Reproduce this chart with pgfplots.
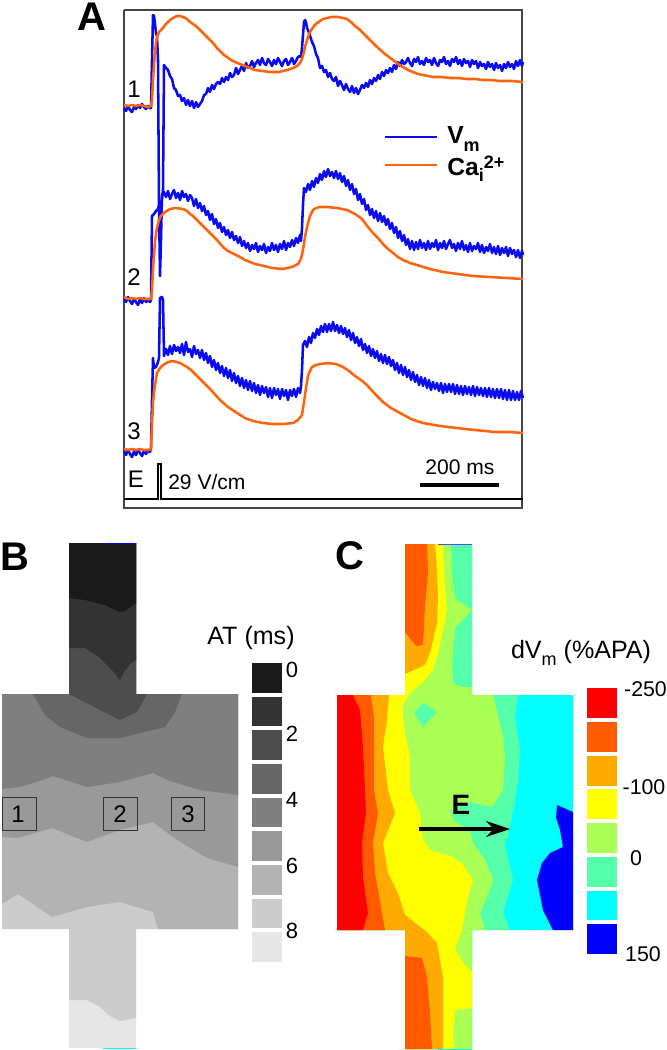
\documentclass[border=0pt]{standalone}
\usepackage{fontspec}
\setmainfont{Liberation Sans}
\usepackage{pgfplots}
\pgfplotsset{compat=1.18}
\usetikzlibrary{arrows.meta}

\definecolor{vm}{RGB}{10,10,240}
\definecolor{cai}{RGB}{255,100,10}
\definecolor{frame}{RGB}{70,70,70}
\definecolor{cR}{RGB}{255,0,0}
\definecolor{cRO}{RGB}{255,90,0}
\definecolor{cO}{RGB}{255,170,0}
\definecolor{cY}{RGB}{255,255,0}
\definecolor{cL}{RGB}{170,255,85}
\definecolor{cM}{RGB}{85,255,170}
\definecolor{cC}{RGB}{0,255,255}
\definecolor{cB}{RGB}{0,0,255}
\definecolor{g0}{RGB}{26,26,26}
\definecolor{g1}{RGB}{51,51,51}
\definecolor{g2}{RGB}{77,77,77}
\definecolor{g3}{RGB}{102,102,102}
\definecolor{g4}{RGB}{127,127,127}
\definecolor{g5}{RGB}{153,153,153}
\definecolor{g6}{RGB}{179,179,179}
\definecolor{g7}{RGB}{204,204,204}
\definecolor{g8}{RGB}{230,230,230}

\newcommand{\fs}[1]{\fontsize{#1}{#1}\selectfont}

\pgfplotsset{
  patch/.style={fill=#1, draw=none, forget plot},
  blue trace/.style={color=vm, line width=1.9pt, line join=round},
  orange trace/.style={color=cai, line width=1.9pt, line join=round},
}

\begin{document}
\begin{tikzpicture}[every node/.style={inner sep=0pt, overlay}]
\begin{axis}[
    scale only axis,
    width=500.25pt, height=787.5pt,
    xmin=0, xmax=667,
    ymin=0, ymax=1050,
    y dir=reverse,
    hide axis,
    clip=false,
]
% keep the page at the full canvas
\path (axis cs:0,0) rectangle (axis cs:667,1050);

% ---- panel A: frame
\addplot[color=frame, line width=0.8pt] coordinates {(124,10) (522,10) (522,508) (124,508) (124,10)};

% trace 1, Vm
\addplot[blue trace] coordinates {
(124,108) (126,111) (128,106) (130,110) (132,112) (134,107) (136,109) (138,105) (140,108) (142,104)
(144,107) (146,109) (148,106) (150,108) (151,108) (152,60) (153,15) (154,16) (155,24) (156,33) (157,36) (158,60)
(159,205) (161,207) (163,190) (164,65) (166,68) (168,70) (170,76) (172,79) (174,88) (176,90) (178,96)
(180,95) (182,101) (184,98) (186,105) (188,100) (190,106) (192,101) (194,108) (196,102) (198,107)
(200,104) (202,101) (204,95) (206,94) (208,88) (210,92) (212,85) (214,89) (216,84) (218,82)
(220,84) (222,78) (224,82) (226,77) (228,80) (230,73) (232,77) (234,75) (236,68) (238,74)
(240,70) (242,66) (244,71) (246,63) (248,68) (250,66) (252,61) (254,67) (256,63) (258,60)
(260,65) (262,58) (264,63) (266,65) (268,59) (270,62) (272,66) (274,60) (276,64) (278,58)
(280,62) (282,66) (284,61) (286,59) (288,65) (290,62) (292,58) (294,64) (296,61) (298,57)
(300,56) (301,57) (302,48) (303,35) (304,22) (305,20) (306,22) (307,28) (308,30) (310,36)
(312,42) (314,46) (316,54) (318,58) (320,68) (322,66) (324,72) (326,70) (328,77) (330,73)
(332,79) (334,81) (336,77) (338,86) (340,81) (342,85) (344,90) (346,84) (348,89) (350,92)
(352,86) (354,93) (356,88) (358,94) (360,90) (362,85) (364,88) (366,83) (368,87) (370,80)
(372,84) (374,78) (376,81) (378,75) (380,79) (382,72) (384,76) (386,70) (388,73) (390,68)
(392,72) (394,65) (396,69) (398,62) (400,66) (402,60) (404,64) (406,62) (408,58) (410,63)
(412,66) (414,59) (416,62) (418,57) (420,64) (422,61) (424,65) (426,58) (428,62) (430,60)
(432,65) (434,58) (436,63) (438,66) (440,60) (442,62) (444,57) (446,64) (448,61) (450,66)
(452,59) (454,62) (456,57) (458,64) (460,60) (462,66) (464,59) (466,63) (468,61) (470,67)
(472,60) (474,64) (476,61) (478,68) (480,62) (482,66) (484,64) (486,69) (488,62) (490,67)
(492,64) (494,70) (496,63) (498,68) (500,65) (502,71) (504,64) (506,68) (508,62) (510,67)
(512,64) (514,69) (516,61) (518,66) (520,60) (522,66) (523,62)};
% trace 1, Cai
\addplot[orange trace] coordinates {
(124,105) (128,106) (132,105) (136,106) (140,105) (144,106) (148,107) (151,106) (152,100) (153,80) (154,65)
(155,52) (156,43) (157,37) (159,32) (161,30) (163,28) (165,25) (167,23) (170,20) (173,18) (177,16) (180,16)
(183,17) (187,19) (190,22) (193,24) (197,27) (200,30) (204,34) (207,37) (210,40) (213,43) (217,48) (220,51)
(224,55) (227,57) (231,60) (235,62) (240,64) (245,66) (250,68) (255,70) (262,71) (270,72) (279,72) (287,70)
(293,68) (297,66) (300,63) (302,59) (304,52) (305,47) (307,40) (309,34) (312,29) (314,26) (317,23) (320,21)
(323,19) (327,18) (331,17) (338,17) (343,18) (347,19) (351,22) (355,26) (359,29) (363,33) (370,40) (377,47)
(385,54) (389,57) (393,60) (398,64) (403,67) (408,70) (413,72) (418,74) (423,75) (428,76) (433,77) (441,77)
(450,78) (458,78) (467,79) (475,79) (483,80) (491,80) (500,81) (512,81) (523,82)};

% trace 2, Vm
\addplot[blue trace] coordinates {
(124,298) (126,302) (128,297) (130,301) (132,304) (134,299) (136,302) (138,305) (140,299) (142,303)
(144,298) (146,302) (148,300) (150,302) (151,300) (152,216) (154,214) (156,211) (158,209) (159,205)
(160,276) (161,240) (162,195) (164,192) (166,197) (168,191) (170,199) (172,194) (174,190) (176,198)
(178,193) (180,200) (182,191) (184,197) (186,194) (188,201) (190,195) (192,198) (194,206) (196,199)
(198,208) (200,203) (202,211) (204,206) (206,215) (208,211) (210,220) (212,214) (214,224) (216,219)
(218,228) (220,223) (222,232) (224,227) (226,235) (228,230) (230,238) (232,232) (234,240) (236,236)
(238,243) (240,237) (242,246) (244,241) (246,248) (248,243) (250,251) (252,245) (254,249) (256,243)
(258,252) (260,246) (262,250) (264,244) (266,253) (268,247) (270,251) (272,243) (274,250) (276,245)
(278,252) (280,244) (282,249) (284,241) (286,250) (288,243) (290,247) (292,240) (294,246) (296,238)
(298,243) (300,235) (301,241) (302,228) (303,205) (304,188) (306,192) (308,184) (310,190) (312,181)
(314,187) (316,178) (318,183) (320,174) (322,180) (324,171) (326,177) (328,169) (330,176) (332,172)
(334,178) (336,171) (338,179) (340,173) (342,182) (344,176) (346,186) (348,180) (350,190) (352,184)
(354,194) (356,189) (358,200) (360,194) (362,204) (364,199) (366,210) (368,205) (370,215) (372,209)
(374,218) (376,211) (378,221) (380,213) (382,222) (384,216) (386,225) (388,219) (390,229) (392,223)
(394,233) (396,227) (398,238) (400,231) (402,241) (404,235) (406,245) (408,239) (410,249) (412,241)
(414,250) (416,242) (418,249) (420,240) (422,248) (424,243) (426,250) (428,241) (430,249) (432,243)
(434,247) (436,240) (438,250) (440,243) (442,248) (444,241) (446,249) (448,244) (450,240) (452,248)
(454,244) (456,251) (458,243) (460,249) (462,241) (464,250) (466,245) (468,252) (470,243) (472,251)
(474,246) (476,249) (478,243) (480,252) (482,245) (484,253) (486,247) (488,251) (490,244) (492,253)
(494,247) (496,254) (498,246) (500,255) (502,248) (504,253) (506,247) (508,256) (510,248) (512,254)
(514,250) (516,257) (518,250) (520,258) (522,251) (523,255)};
% trace 2, Cai
\addplot[orange trace] coordinates {
(124,297) (128,299) (132,298) (136,299) (140,298) (144,299) (148,299) (151,299) (152,290) (153,270) (154,255)
(155,241) (156,234) (157,228) (159,220) (161,216) (165,212) (170,209) (176,208) (183,209) (187,211) (190,214)
(193,216) (197,220) (203,226) (207,230) (210,233) (217,240) (223,247) (228,251) (232,253) (240,257) (245,260)
(250,262) (255,264) (260,265) (272,268) (283,269) (292,267) (298,264) (301,259) (303,250) (305,237) (307,227)
(310,216) (313,210) (316,208) (320,207) (327,207) (337,208) (347,210) (355,214) (358,216) (362,219) (368,227)
(373,233) (378,238) (383,244) (388,249) (393,253) (398,257) (403,260) (410,263) (417,265) (430,269) (443,272)
(458,274) (473,276) (490,277) (507,278) (523,279)};

% trace 3, Vm
\addplot[blue trace] coordinates {
(124,451) (126,455) (128,450) (130,454) (132,457) (134,451) (136,455) (138,450) (140,453) (142,456)
(144,451) (146,454) (148,450) (150,452) (151,448) (152,400) (153,358) (154,368) (156,367) (158,362) (159,358)
(160,298) (162,297) (163,300) (164,356) (166,349) (168,355) (170,346) (172,354) (174,345) (176,351)
(178,347) (180,353) (182,344) (184,355) (186,342) (188,352) (190,349) (192,357) (194,346) (196,354)
(198,350) (200,358) (202,350) (204,360) (206,353) (208,363) (210,356) (212,367) (214,360) (216,370)
(218,363) (220,373) (222,366) (224,376) (226,368) (228,378) (230,370) (232,381) (234,373) (236,383)
(238,376) (240,386) (242,378) (244,388) (246,380) (248,390) (250,381) (252,391) (254,383) (256,393)
(258,385) (260,395) (262,386) (264,393) (266,387) (268,397) (270,388) (272,398) (274,388) (276,395)
(278,389) (280,399) (282,389) (284,396) (286,390) (288,400) (290,390) (292,396) (294,389) (296,397)
(298,388) (300,393) (301,386) (302,370) (303,345) (305,341) (307,347) (309,337) (311,343) (313,333)
(315,338) (317,329) (319,335) (321,326) (323,332) (325,324) (327,332) (329,324) (331,331) (333,322)
(335,331) (337,325) (339,333) (341,326) (343,334) (345,328) (347,337) (349,330) (351,340) (353,333)
(355,343) (357,337) (359,346) (361,339) (363,350) (365,344) (367,353) (369,346) (371,356) (373,349)
(375,358) (377,351) (379,361) (381,354) (383,363) (385,355) (387,364) (389,357) (391,366) (393,360)
(395,370) (397,363) (399,373) (401,365) (403,375) (405,367) (407,377) (409,370) (411,380) (413,372)
(415,382) (417,375) (419,385) (421,377) (423,386) (425,378) (427,388) (429,380) (431,390) (433,382)
(435,389) (437,383) (439,391) (441,383) (443,393) (445,384) (447,392) (449,384) (451,392) (453,384)
(455,394) (457,385) (459,394) (461,386) (463,395) (465,386) (467,394) (469,387) (471,395) (473,386)
(475,396) (477,387) (479,395) (481,388) (483,396) (485,388) (487,397) (489,388) (491,397) (493,389)
(495,398) (497,389) (499,398) (501,389) (503,399) (505,390) (507,400) (509,390) (511,400) (513,391)
(515,400) (517,392) (519,400) (521,391) (523,398)};
% trace 3, Cai
\addplot[orange trace] coordinates {
(124,449) (128,450) (132,449) (136,450) (140,449) (144,450) (148,450) (151,449) (152,425) (153,403) (154,392)
(155,385) (157,373) (160,368) (163,365) (168,362) (173,361) (180,363) (187,367) (191,370) (195,374) (203,382)
(212,391) (220,400) (228,407) (237,413) (245,418) (253,421) (263,423) (273,424) (283,424) (293,423) (298,420)
(302,415) (304,402) (306,388) (308,376) (310,371) (312,367) (316,365) (320,364) (328,363) (336,364) (343,367)
(349,371) (355,376) (361,380) (367,385) (375,394) (383,402) (391,408) (400,413) (411,419) (423,423) (440,426)
(457,428) (475,430) (495,432) (510,432) (523,433)};

% legend
\addplot[color=vm, line width=1.5pt] coordinates {(385,137) (437,137)};
\addplot[color=cai, line width=1.5pt] coordinates {(385,165) (437,165)};
\node[anchor=base west] at (axis cs:447,143) {\fs{18.5}\bfseries V\raisebox{-6.7pt}{\fs{13.5}\bfseries m}};
\node[anchor=base west] at (axis cs:447,175) {\fs{18.5}\bfseries Ca\raisebox{-5pt}{\fs{13.5}\bfseries i}\raisebox{5pt}{\fs{13.5}\bfseries 2+}};

% stimulus and scale bar
\addplot[color=black, line width=0.8pt] coordinates {(124,499) (158,499) (158,464) (161,464) (161,499) (523,499)};
\addplot[color=black, line width=2.7pt] coordinates {(420,485) (499,485)};
\node at (axis cs:460,467) {\fs{15.8}200 ms};
\node[anchor=west] at (axis cs:168,482) {\fs{15.8}29 V/cm};
\node at (axis cs:136,479) {\fs{18}E};
\node at (axis cs:134,89) {\fs{18}1};
\node at (axis cs:134,277) {\fs{18}2};
\node at (axis cs:134,431) {\fs{18}3};
\node at (axis cs:92,17) {\fs{30}\bfseries A};
\node at (axis cs:15,557) {\fs{30}\bfseries B};
\node at (axis cs:350,556) {\fs{30}\bfseries C};

% ---- panel B: activation time bands, lightest first
\addplot[patch=g8] coordinates {(69,543) (136,543) (136,694) (238,694) (238,929) (136,929) (136,1048) (69,1048) (69,929) (2,929) (2,694) (69,694)} -- cycle;
\addplot[patch=g7] coordinates {(69,543) (136,543) (136,694) (238,694) (238,929) (136,929) (136,1018) (120,1021) (110,1016) (100,1007) (87,1000) (69,1000) (69,929) (2,929) (2,694) (69,694)} -- cycle;
\addplot[patch=g6] coordinates {(69,543) (136,543) (136,694) (238,694) (238,929) (158,929) (153,912) (120,902) (87,907) (52,917) (18,894) (2,904) (2,694) (69,694)} -- cycle;
\addplot[patch=g5] coordinates {(69,543) (136,543) (136,694) (238,694) (238,867) (207,858) (177,840) (153,822) (120,830) (87,842) (52,828) (18,838) (2,837) (2,694) (69,694)} -- cycle;
\addplot[patch=g4] coordinates {(69,543) (136,543) (136,694) (238,694) (238,795) (200,790) (170,781) (153,773) (120,782) (87,787) (53,776) (37,782) (20,787) (2,789) (2,694) (69,694)} -- cycle;
\addplot[patch=g3] coordinates {(69,543) (136,543) (136,694) (182,694) (175,712) (165,727) (120,738) (87,738) (60,727) (45,715) (33,694) (69,694)} -- cycle;
\addplot[patch=g2] coordinates {(69,543) (136,543) (136,694) (147,694) (137,712) (120,720) (100,710) (69,694)} -- cycle;
\addplot[patch=g1] coordinates {(69,543) (136,543) (136,660) (130,664) (124,672) (120,680) (112,670) (100,658) (85,648) (69,648)} -- cycle;
\addplot[patch=g0] coordinates {(69,543) (136,543) (136,603) (125,611) (120,612) (105,605) (85,600) (69,598)} -- cycle;
\addplot[color=cB, line width=0.7pt] coordinates {(103,543) (136,543)};
\addplot[color=cC, line width=0.7pt] coordinates {(103,1048) (136,1048)};

% recording sites
\addplot[color=black!80, line width=0.7pt] coordinates {(2,797) (36,797) (36,830) (2,830) (2,797)};
\addplot[color=black!80, line width=0.7pt] coordinates {(103,797) (137,797) (137,830) (103,830) (103,797)};
\addplot[color=black!80, line width=0.7pt] coordinates {(171,797) (204,797) (204,830) (171,830) (171,797)};
\node at (axis cs:18,814) {\fs{18}1};
\node at (axis cs:120,814) {\fs{18}2};
\node at (axis cs:188,814) {\fs{18}3};

% panel B colour key
\addplot[patch=g0] coordinates {(252,663) (282,663) (282,693) (252,693)} -- cycle;
\addplot[patch=g1] coordinates {(252,697) (282,697) (282,726) (252,726)} -- cycle;
\addplot[patch=g2] coordinates {(252,730) (282,730) (282,760) (252,760)} -- cycle;
\addplot[patch=g3] coordinates {(252,764) (282,764) (282,794) (252,794)} -- cycle;
\addplot[patch=g4] coordinates {(252,798) (282,798) (282,827) (252,827)} -- cycle;
\addplot[patch=g5] coordinates {(252,831) (282,831) (282,861) (252,861)} -- cycle;
\addplot[patch=g6] coordinates {(252,865) (282,865) (282,895) (252,895)} -- cycle;
\addplot[patch=g7] coordinates {(252,899) (282,899) (282,928) (252,928)} -- cycle;
\addplot[patch=g8] coordinates {(252,932) (282,932) (282,962) (252,962)} -- cycle;
\node at (axis cs:251,638) {\fs{18.8}AT (ms)};
\node at (axis cs:292,670) {\fs{16.5}0};
\node at (axis cs:292,734) {\fs{16.5}2};
\node at (axis cs:292,800) {\fs{16.5}4};
\node at (axis cs:292,866) {\fs{16.5}6};
\node at (axis cs:292,931) {\fs{16.5}8};

% ---- panel C: dVm bands, right to left
\addplot[patch=cC] coordinates {(405,544) (472,544) (472,695) (573,695) (573,930) (472,930) (472,1049) (405,1049) (405,930) (337,930) (337,695) (405,695)} -- cycle;
\addplot[patch=cB] coordinates {(557,805) (573,812) (573,930) (553,930) (543,910) (537,880) (542,863) (550,853) (563,847) (560,830) (556,818)} -- cycle;
\addplot[patch=cM] coordinates {(405,544) (472,544) (472,695) (518,695) (515,717) (520,750) (518,780) (515,800) (510,827) (505,845) (513,880) (503,913) (510,930) (472,930) (472,1049) (405,1049) (405,930) (337,930) (337,695) (405,695)} -- cycle;
\addplot[patch=cL] coordinates {(405,544) (451,544) (452,573) (455,598) (472,610) (455,628) (452,663) (453,683) (462,687) (472,687) (472,695) (493,695) (503,737) (505,757) (503,790) (492,807) (470,802) (450,810) (455,822) (470,830) (473,843) (485,860) (493,880) (487,897) (480,913) (485,930) (472,930) (472,1049) (405,1049) (405,930) (337,930) (337,695) (405,695)} -- cycle;
\addplot[patch=cM] coordinates {(423,703) (437,712) (423,727) (414,713)} -- cycle;
\addplot[patch=cY] coordinates {(405,544) (443,544) (445,587) (447,610) (443,630) (438,653) (433,670) (423,682) (410,693) (402,707) (405,733) (410,757) (410,790) (420,813) (423,840) (430,850) (453,857) (463,865) (473,880) (468,897) (465,913) (462,930) (458,940) (455,948) (463,963) (472,972) (472,1008) (455,1010) (453,1033) (454,1049) (405,1049) (405,930) (337,930) (337,695) (405,695)} -- cycle;
\addplot[patch=cO] coordinates {(405,544) (435,544) (437,570) (438,597) (437,623) (430,653) (425,665) (405,674)} -- cycle;
\addplot[patch=cO] coordinates {(337,695) (389,695) (387,720) (383,747) (388,790) (395,813) (383,843) (388,873) (398,893) (405,915) (427,932) (437,943) (443,977) (443,1049) (405,1049) (405,930) (337,930)} -- cycle;
\addplot[patch=cRO] coordinates {(405,544) (427,544) (428,573) (425,607) (423,645) (416,646) (405,632)} -- cycle;
\addplot[patch=cRO] coordinates {(337,695) (371,695) (374,717) (374,790) (378,813) (373,843) (375,873) (385,930) (337,930)} -- cycle;
\addplot[patch=cRO] coordinates {(405,956) (422,958) (427,977) (430,1013) (432,1049) (405,1049)} -- cycle;
\addplot[patch=cR] coordinates {(337,695) (353,695) (360,710) (363,747) (365,790) (366,813) (362,843) (363,877) (368,913) (363,930) (337,930)} -- cycle;
\addplot[color=cB!70!white, line width=0.7pt] coordinates {(438,544) (472,544)};
\addplot[color=cC, line width=0.7pt] coordinates {(438,1049) (472,1049)};

% field arrow
\addplot[color=black, line width=2.4pt, -{Stealth[length=18pt, width=12pt]}] coordinates {(419,829) (510,829)};
\node at (axis cs:461,805) {\fs{21}\bfseries E};

% panel C colour key
\addplot[patch=cR] coordinates {(587,688) (617,688) (617,718) (587,718)} -- cycle;
\addplot[patch=cRO] coordinates {(587,722) (617,722) (617,752) (587,752)} -- cycle;
\addplot[patch=cO] coordinates {(587,756) (617,756) (617,786) (587,786)} -- cycle;
\addplot[patch=cY] coordinates {(587,789) (617,789) (617,819) (587,819)} -- cycle;
\addplot[patch=cL] coordinates {(587,823) (617,823) (617,853) (587,853)} -- cycle;
\addplot[patch=cM] coordinates {(587,857) (617,857) (617,887) (587,887)} -- cycle;
\addplot[patch=cC] coordinates {(587,891) (617,891) (617,920) (587,920)} -- cycle;
\addplot[patch=cB] coordinates {(587,924) (617,924) (617,954) (587,954)} -- cycle;
\node at (axis cs:581,653) {\fs{18.8}dV\raisebox{-5pt}{\fs{13.5}m} (\%APA)};
\node at (axis cs:645.5,689) {\fs{16}-250};
\node at (axis cs:644,787) {\fs{16}-100};
\node at (axis cs:636,858) {\fs{16}0};
\node at (axis cs:643,954) {\fs{16}150};

\end{axis}
\end{tikzpicture}
\end{document}
